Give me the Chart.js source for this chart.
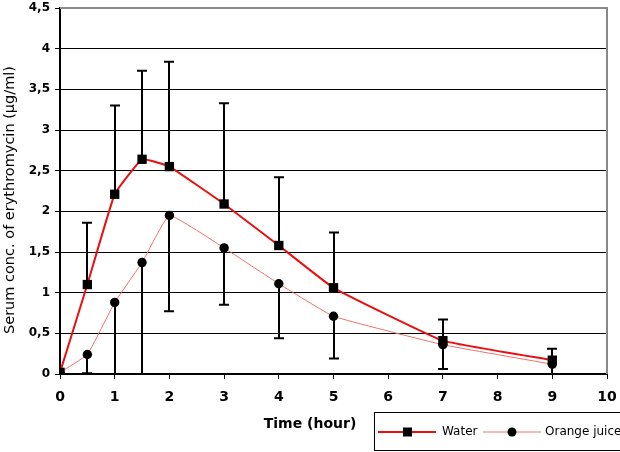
<!DOCTYPE html>
<html lang="en">
  <head>
    <meta charset="UTF-8" />
    <title>Serum erythromycin</title>
    <script src="https://cdn.jsdelivr.net/npm/chart.js"></script>
    <style>
      body {
        margin: 0;
        background: #fff;
      }
      .chart-container {
        width: 620px;
        height: 452px;
      }
    </style>
  </head>
  <body>
    <div class="chart-container">
      <canvas id="ercChart" width="620" height="452"></canvas>
    </div>

    <script>
      // sampling times (hours)
      const times = [0, 0.5, 1, 1.5, 2, 3, 4, 5, 7, 9];
      // mean serum concentration (ug/ml)
      const water = [0.02, 1.1, 2.21, 2.64, 2.55, 2.09, 1.58, 1.06, 0.41, 0.17];
      const orangeJuice = [0.02, 0.24, 0.88, 1.37, 1.95, 1.55, 1.11, 0.71, 0.36, 0.12];
      // SD, drawn upward for water and downward for orange juice
      const waterSD = [0, 0.76, 1.09, 1.09, 1.29, 1.24, 0.84, 0.68, 0.26, 0.14];
      const orangeJuiceSD = [0, 0.23, 0.95, 1.45, 1.18, 0.7, 0.67, 0.52, 0.3, 0.12];
      const yTicks = [0, 0.5, 1, 1.5, 2, 2.5, 3, 3.5, 4, 4.5];

      const FONT = "'DejaVu Sans', Verdana, sans-serif";

      function toPoints(ys) {
        return times.map((t, i) => ({ x: t, y: ys[i] }));
      }

      // error bars + frame + titles + legend box
      const extras = {
        id: "extras",
        beforeDatasetsDraw(chart) {
          const { ctx, scales, chartArea } = chart;
          const x = scales.x, y = scales.y;
          ctx.save();
          ctx.beginPath();
          ctx.rect(chartArea.left - 10, chartArea.top, chartArea.width + 20, chartArea.height + 1);
          ctx.clip();
          ctx.strokeStyle = "#000";
          ctx.lineWidth = 2;
          const bar = (t, from, to) => {
            const px = Math.round(x.getPixelForValue(t));
            const p1 = y.getPixelForValue(from);
            const p2 = y.getPixelForValue(to);
            ctx.beginPath();
            ctx.moveTo(px, p1);
            ctx.lineTo(px, p2);
            ctx.moveTo(px - 5, p2);
            ctx.lineTo(px + 5, p2);
            ctx.stroke();
          };
          times.forEach((t, i) => {
            if (waterSD[i] > 0) bar(t, water[i], water[i] + waterSD[i]);
            if (orangeJuiceSD[i] > 0) bar(t, orangeJuice[i], orangeJuice[i] - orangeJuiceSD[i]);
          });
          ctx.restore();

          // gray frame top/right
          ctx.save();
          ctx.strokeStyle = "#888";
          ctx.lineWidth = 2;
          ctx.beginPath();
          ctx.moveTo(chartArea.left, chartArea.top);
          ctx.lineTo(chartArea.right, chartArea.top);
          ctx.lineTo(chartArea.right, chartArea.bottom);
          ctx.stroke();
          ctx.restore();
        },
        afterDraw(chart) {
          const { ctx } = chart;
          ctx.save();
          ctx.fillStyle = "#000";
          // x title
          ctx.font = "bold 14px " + FONT;
          ctx.textAlign = "center";
          ctx.textBaseline = "middle";
          ctx.fillText("Time (hour)", 310, 424);
          // y title
          ctx.translate(10, 200);
          ctx.rotate(-Math.PI / 2);
          ctx.font = "14.5px " + FONT;
          ctx.fillText("Serum conc. of erythromycin (\u03bcg/ml)", 0, 0);
          ctx.restore();

          // legend
          ctx.save();
          ctx.strokeStyle = "#000";
          ctx.lineWidth = 1;
          ctx.strokeRect(374.5, 412.5, 260, 38);
          const ly = 432;
          ctx.strokeStyle = "#e81010";
          ctx.lineWidth = 2;
          ctx.beginPath();
          ctx.moveTo(378, ly);
          ctx.lineTo(436, ly);
          ctx.stroke();
          ctx.fillStyle = "#000";
          ctx.fillRect(403, ly - 4.5, 9, 9);
          ctx.strokeStyle = "#f07070";
          ctx.lineWidth = 1;
          ctx.beginPath();
          ctx.moveTo(483, ly);
          ctx.lineTo(541, ly);
          ctx.stroke();
          ctx.beginPath();
          ctx.arc(512, ly, 4.5, 0, Math.PI * 2);
          ctx.fill();
          ctx.font = "12px " + FONT;
          ctx.textAlign = "left";
          ctx.textBaseline = "middle";
          ctx.fillText("Water", 442, ly);
          ctx.fillText("Orange juice", 545, ly);
          ctx.restore();
        },
      };

      const ctx = document.getElementById("ercChart").getContext("2d");
      new Chart(ctx, {
        type: "line",
        data: {
          datasets: [
            {
              label: "Water",
              data: toPoints(water),
              borderColor: "#e81010",
              borderWidth: 2,
              pointStyle: "rect",
              pointRadius: 6.6,
              pointBackgroundColor: "#000",
              pointBorderWidth: 0,
              tension: 0.1,
            },
            {
              label: "Orange juice",
              data: toPoints(orangeJuice),
              borderColor: "#f07070",
              borderWidth: 1,
              pointStyle: "circle",
              pointRadius: 4.7,
              pointBackgroundColor: "#000",
              pointBorderWidth: 0,
              tension: 0.1,
            },
          ],
        },
        options: {
          responsive: false,
          animation: false,
          layout: { padding: { top: 8, right: 13, left: 0, bottom: 0 } },
          plugins: {
            legend: { display: false },
            tooltip: { enabled: false },
          },
          scales: {
            x: {
              type: "linear",
              min: 0,
              max: 10,
              afterFit(s) {
                s.height = 78;
                s.paddingLeft = 0;
                s.paddingRight = 0;
              },
              ticks: {
                stepSize: 1,
                padding: 10,
                color: "#000",
                font: { family: FONT, size: 14, weight: "bold" },
              },
              grid: {
                drawOnChartArea: false,
                drawTicks: true,
                tickLength: 5,
                tickColor: "#000",
                tickWidth: 1,
              },
              border: { color: "#000", width: 2 },
            },
            y: {
              min: 0,
              max: 4.5,
              afterFit(s) {
                s.width = 60;
                s.paddingTop = 0;
                s.paddingBottom = 0;
              },
              afterBuildTicks(s) {
                s.ticks = yTicks.map((v) => ({ value: v }));
              },
              ticks: {
                padding: 5,
                color: "#000",
                font: { family: FONT, size: 12, weight: "bold" },
                callback: (v) => String(v).replace(".", ","),
              },
              grid: {
                color: "#000",
                lineWidth: 1,
                tickLength: 5,
              },
              border: { color: "#000", width: 2 },
            },
          },
        },
        plugins: [extras],
      });
    </script>
  </body>
</html>
